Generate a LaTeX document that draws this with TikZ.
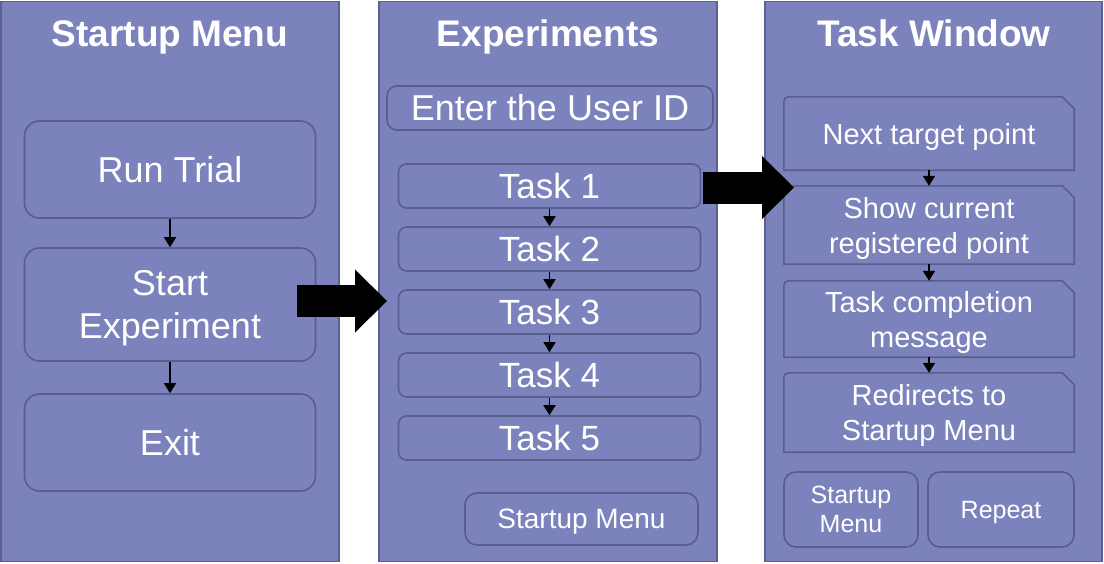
\documentclass[tikz,border=0pt]{standalone}
\usepackage{fontspec}
\setmainfont{Liberation Sans}
\usepackage{tikz}
\usetikzlibrary{arrows.meta}

\definecolor{panelfill}{RGB}{124,130,188}
\definecolor{panelline}{RGB}{92,96,142}
\definecolor{boxline}{RGB}{90,94,140}

\tikzset{
    panel/.style = {draw=panelline, fill=panelfill, line width=1.6pt, minimum width=338pt, minimum height=560pt, inner sep=0pt},
    title/.style = {anchor=base, text=white, font=\fontsize{37}{44}\selectfont\bfseries},
    menubox/.style = {draw=boxline, line width=1.6pt, rounded corners=15pt, minimum width=291pt, inner sep=0pt, text depth=0pt, align=center, text=white, font=\fontsize{36}{43}\selectfont},
    taskbox/.style = {draw=boxline, line width=1.6pt, rounded corners=8pt, minimum width=302pt, minimum height=44pt, inner sep=0pt, text=white, font=\fontsize{35}{42}\selectfont},
    snipbox/.style = {minimum width=290pt, inner sep=0pt, text depth=0pt, align=center, text=white, font=\fontsize{29}{35}\selectfont},
    snipline/.style = {draw=boxline, line width=1.6pt},
    button/.style = {draw=boxline, line width=1.6pt, rounded corners=12pt, inner sep=0pt, text depth=0pt, align=center, text=white},
    smallarrow/.style = {line width=1.8pt, -{Triangle[length=10pt,width=12pt]}},
    fatarrow/.style = {line width=32pt, -{Triangle[length=32pt 0 0,width=63pt 0 0,line width=0pt]}}
}

\begin{document}
\begin{tikzpicture}[x=1pt, y=-1pt]
        \useasboundingbox (0,0) rectangle (1104,563);
        % panels
        \node [panel] (sm) at (170,281.5) {};
        \node [panel] (ex) at (548,281.5) {};
        \node [panel, minimum width=337pt] (tw) at (933.5,281.5) {};
        \node [title] (smtitle) at (170,46) {Startup Menu};
        \node [title] (extitle) at (548,46) {Experiments};
        \node [title] (twtitle) at (934,46) {Task Window};
        % startup menu
        \node [menubox, minimum height=97pt] (run) at (170,169.5) {Run Trial};
        \node [menubox, minimum height=113pt] (start) at (170,304.5) {Start\\Experiment};
        \node [menubox, minimum height=97pt] (exit) at (170,442.5) {Exit};
        \draw [smallarrow] (run.south) -- (start.north);
        \draw [smallarrow] (start.south) -- (exit.north);
        % experiments
        \node [taskbox, minimum width=326pt, rounded corners=10pt, font=\fontsize{36}{43}\selectfont] (uid) at (550,108) {Enter the User ID};
        \foreach \k in {1,...,5}
            \node [taskbox] (t\k) at (549.5, {186+63*(\k-1)}) {Task \k};
        \foreach \k [evaluate=\k as \j using int(\k+1)] in {1,...,4}
            \draw [smallarrow] (t\k.south) -- (t\j.north);
        \node [button, minimum width=233pt, minimum height=52pt, font=\fontsize{28}{34}\selectfont] (exmenu) at (581.5,519) {Startup Menu};
        % task window
        \foreach \nm/\yc/\hh/\txt in {ntp/133.5/73/{Next target point}, scp/225/78/{Show current\\registered point}, tcm/319/76/{Task completion\\message}, rsm/412.5/79/{Redirects to\\Startup Menu}} {
            \node [snipbox, minimum height=\hh pt] (\nm) at (929,\yc) {\txt};
            \draw [snipline] (\nm.south west) -- ([yshift=-10pt]\nm.north west) .. controls (\nm.north west) .. ([xshift=10pt]\nm.north west)
                -- ([xshift=-12pt]\nm.north east) -- ([yshift=-12pt]\nm.north east) -- (\nm.south east) -- cycle;
        }
        \draw [smallarrow] (ntp.south) -- (scp.north);
        \draw [smallarrow] (scp.south) -- (tcm.north);
        \draw [smallarrow] (tcm.south) -- (rsm.north);
        \node [button, minimum width=134pt, minimum height=75pt, font=\fontsize{25}{29}\selectfont] (twmenu) at (851,509.5) {Startup\\Menu};
        \node [button, minimum width=146pt, minimum height=75pt, font=\fontsize{25}{29}\selectfont] (repeat) at (1001,509.5) {Repeat};
        % block arrows between windows
        \coordinate (a1s) at (297,301);
        \coordinate (a1e) at (387,301);
        \coordinate (a2s) at (703,187.5);
        \coordinate (a2e) at (794,187.5);
        \draw [fatarrow] (a1s) -- (a1e);
        \draw [fatarrow] (a2s) -- (a2e);
    \end{tikzpicture}
\end{document}
